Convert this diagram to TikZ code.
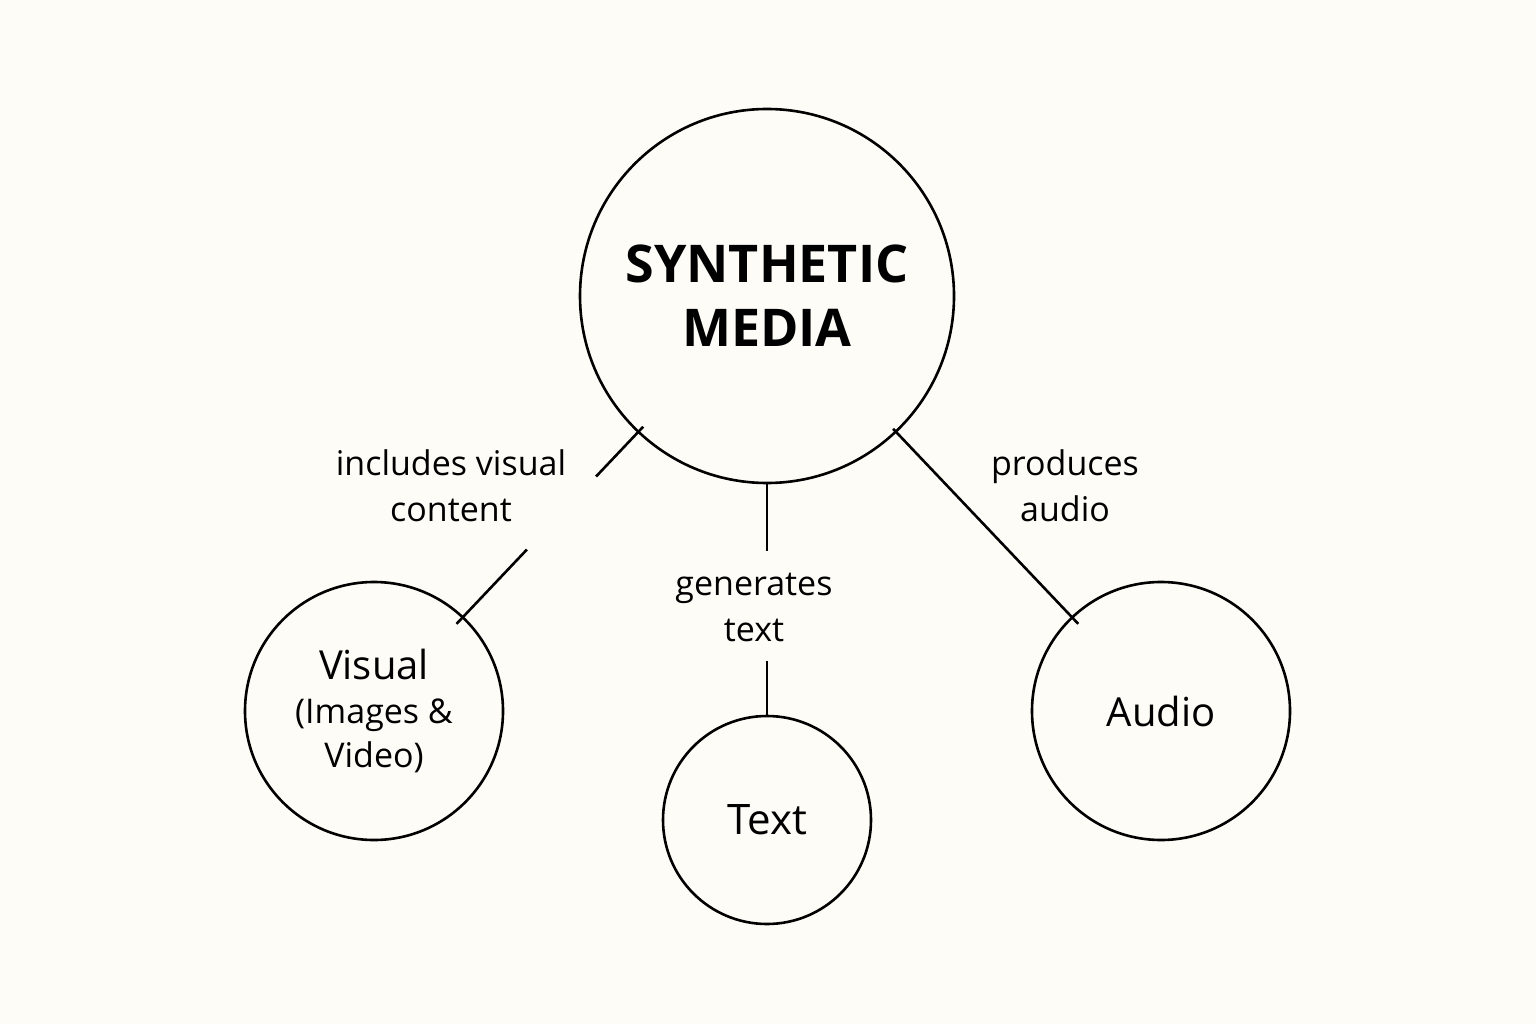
\documentclass[tikz,border=0pt]{standalone}
\usepackage{fontspec}
\setmainfont{Open Sans}
\usetikzlibrary{calc}
\definecolor{bg}{HTML}{FDFCF7}
\begin{document}
\begin{tikzpicture}[x=1pt,y=-1pt,
  circ/.style={circle,draw,line width=2.6pt,inner sep=0pt},
  conn/.style={line width=2.6pt},
  lbl/.style={font=\fontsize{34}{46}\selectfont,align=center}]
\fill[bg] (0,0) rectangle (1536,1024);
\useasboundingbox (0,0) rectangle (1536,1024);
\node[circ,minimum size=374pt,font=\fontsize{52}{64}\selectfont\bfseries,align=center] (m) at (767,296) {SYNTHETIC\\MEDIA};
\node[circ,minimum size=258pt,font=\fontsize{40}{48}\selectfont,align=center] (v) at (374,711) {Visual\\[-4pt]{\fontsize{34}{44}\selectfont(Images \&}\\[-4pt]{\fontsize{34}{44}\selectfont Video)}};
\node[circ,minimum size=208pt,font=\fontsize{42}{50}\selectfont] (t) at (767,820) {Text};
\node[circ,minimum size=258pt,font=\fontsize{40}{48}\selectfont] (a) at (1161,711) {Audio};
\draw[conn] (m.south) -- ++(0,67) coordinate (t1);
\draw[conn] (t.north) -- ++(0,-54) coordinate (t2);
\draw[conn] ($(m)!0.315!(v)$) coordinate (v0) -- ($(m)!0.435!(v)$) coordinate (v1);
\draw[conn] ($(m)!0.611!(v)$) coordinate (v2) -- ($(m)!0.79!(v)$) coordinate (v3);
\draw[conn] ($(m)!0.32!(a)$) coordinate (a0) -- ($(m)!0.79!(a)$) coordinate (a1);
\node[lbl] (lv) at (451,486) {includes visual\\content};
\node[lbl] (lt) at (754,607) {generates\\text};
\node[lbl] (la) at (1065,486) {produces\\audio};
\end{tikzpicture}
\end{document}
